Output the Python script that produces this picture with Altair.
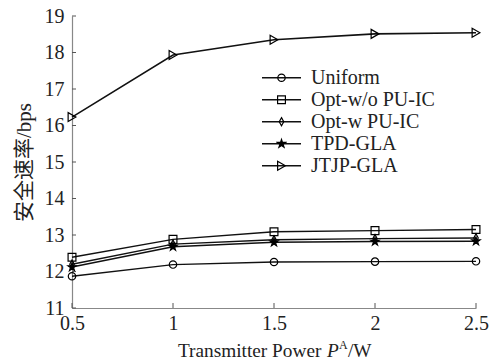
import altair as alt
import pandas as pd

power = [0.5, 1.0, 1.5, 2.0, 2.5]
series_names = ["Uniform", "Opt-w/o PU-IC", "Opt-w PU-IC", "TPD-GLA", "JTJP-GLA"]
uniform = [11.87, 12.19, 12.26, 12.27, 12.28]
opt_wo = [12.39, 12.88, 13.09, 13.12, 13.15]
opt_w = [12.20, 12.75, 12.87, 12.90, 12.92]
tpd = [12.12, 12.68, 12.80, 12.82, 12.83]
jtjp = [16.23, 17.93, 18.35, 18.51, 18.54]

x_ticks = [0.5, 1.0, 1.5, 2.0, 2.5]
y_ticks = [11, 12, 13, 14, 15, 16, 17, 18, 19]
y_title = "安全速率/bps"
x_title_main = "Transmitter Power "
x_title_var = "P"
x_title_sup = "A"
x_title_unit = "/W"

# a trailing space keeps the line legend's domain distinct from the marker legend's
line_names = [n + " " for n in series_names]

values = [uniform, opt_wo, opt_w, tpd, jtjp]
rows = []
for name, lname, vals in zip(series_names, line_names, values):
    for p, v in zip(power, vals):
        rows.append({"power": p, "rate": v, "series": name, "series2": lname})
df = pd.DataFrame(rows)

W, H = 404, 292
SERIF = "Liberation Serif"
star = "M0,-1L0.2245,-0.309L0.9511,-0.309L0.3633,0.118L0.5878,0.809L0,0.382L-0.5878,0.809L-0.3633,0.118L-0.9511,-0.309L-0.2245,-0.309Z"
thin_diamond = "M0,-1L0.55,0L0,1L-0.55,0Z"

LEG_X, LEG_Y, ROW_H, LBL = 189, 51, 21.5, 20

xscale = alt.Scale(domain=[0.5, 2.5], nice=False, zero=False)
yscale = alt.Scale(domain=[11, 19], nice=False, zero=False)

x_axis = alt.Axis(values=x_ticks, title=None, tickSize=0, labelPadding=5,
                  labelFlush=False, labelOverlap=False, labelFont=SERIF, labelFontSize=20,
                  labelExpr="datum.value == 0.5 ? '0.5' : format(datum.value, '')",
                  grid=False)
y_axis = alt.Axis(values=y_ticks, title=y_title, tickSize=0, labelPadding=8,
                  labelFlush=False, labelOverlap=False, labelFont=SERIF, labelFontSize=20,
                  grid=False, titlePadding=10,
                  titleFont="Liberation Serif, Noto Sans CJK SC",
                  titleFontSize=21, titleFontWeight="normal", titleColor="#222")

line_legend = alt.Legend(orient="none", legendX=LEG_X, legendY=LEG_Y, title=None,
                         symbolType="stroke", symbolSize=1521, symbolStrokeWidth=1.4,
                         labelFont=SERIF, labelFontSize=LBL, labelColor="#222",
                         labelOffset=9, rowPadding=0, clipHeight=ROW_H, padding=0)
shape_legend = alt.Legend(orient="none", legendX=LEG_X + 15, legendY=LEG_Y, title=None,
                          labelExpr="''", labelFontSize=1, labelOpacity=0,
                          labelOffset=0, rowPadding=0, clipHeight=ROW_H, padding=0,
                          symbolStrokeColor="black", symbolStrokeWidth=1.2)

base = alt.Chart(df)

lines = base.mark_line(color="black", strokeCap="butt").encode(
    x=alt.X("power:Q", scale=xscale, axis=x_axis),
    y=alt.Y("rate:Q", scale=yscale, axis=y_axis),
    color=alt.Color("series2:N", scale=alt.Scale(domain=line_names, range=["#111"] * 5),
                    legend=line_legend),
    strokeWidth=alt.StrokeWidth("series2:N",
                                scale=alt.Scale(domain=line_names, range=[1.3, 1.6, 2.0, 2.2, 1.3]),
                                legend=line_legend),
)

points = base.mark_point(strokeWidth=1.2, opacity=1).encode(
    x=alt.X("power:Q", scale=xscale, axis=x_axis),
    y=alt.Y("rate:Q", scale=yscale, axis=y_axis),
    shape=alt.Shape("series:N", scale=alt.Scale(domain=series_names,
                                                range=["circle", "square", thin_diamond, star, "triangle-right"]),
                    legend=shape_legend),
    fill=alt.Fill("series:N", scale=alt.Scale(domain=series_names,
                                              range=["transparent", "transparent", "transparent", "black", "transparent"]),
                  legend=shape_legend),
    stroke=alt.Stroke("series:N", scale=alt.Scale(domain=series_names, range=["black"] * 5),
                      legend=shape_legend),
    size=alt.Size("series:N", scale=alt.Scale(domain=series_names, range=[55, 80, 90, 110, 105]),
                  legend=shape_legend),
)

xt_df = pd.DataFrame({"t": x_ticks})
yt_df = pd.DataFrame({"t": y_ticks})
xt = alt.Chart(xt_df).mark_rule(color="#555", strokeWidth=1).encode(
    x=alt.X("t:Q", scale=xscale, axis=x_axis), y=alt.value(H), y2=alt.value(H - 5))
yt = alt.Chart(yt_df).mark_rule(color="#555", strokeWidth=1).encode(
    y=alt.Y("t:Q", scale=yscale, axis=y_axis), x=alt.value(0), x2=alt.value(4))

title_df = pd.DataFrame({"a": [0]})
tb = alt.Chart(title_df)
t1 = tb.mark_text(text=x_title_main, font=SERIF, fontSize=19.3, align="left", baseline="alphabetic", color="#222").encode(
    x=alt.value(106), y=alt.value(341))
t2 = tb.mark_text(text=x_title_var, font=SERIF, fontStyle="italic", fontSize=19.3, align="left", baseline="alphabetic", color="#222").encode(
    x=alt.value(255), y=alt.value(341))
t3 = tb.mark_text(text=x_title_sup, font=SERIF, fontSize=12, align="left", baseline="alphabetic", color="#222").encode(
    x=alt.value(267), y=alt.value(333))
t4 = tb.mark_text(text=x_title_unit, font=SERIF, fontSize=19.3, align="left", baseline="alphabetic", color="#222").encode(
    x=alt.value(276), y=alt.value(341))

chart = alt.layer(lines, points, xt, yt, t1, t2, t3, t4).properties(
    width=W, height=H,
    autosize=alt.AutoSizeParams(type="none"),
    padding={"left": 72, "top": 16, "right": 28, "bottom": 55},
    background="white",
).configure_view(stroke=None).configure_axis(
    labelFont=SERIF, labelFontSize=20, labelColor="#222",
    domainColor="#888", domainWidth=1.2,
)

chart.save("out.html", embed_options={"renderer": "svg", "actions": False})
